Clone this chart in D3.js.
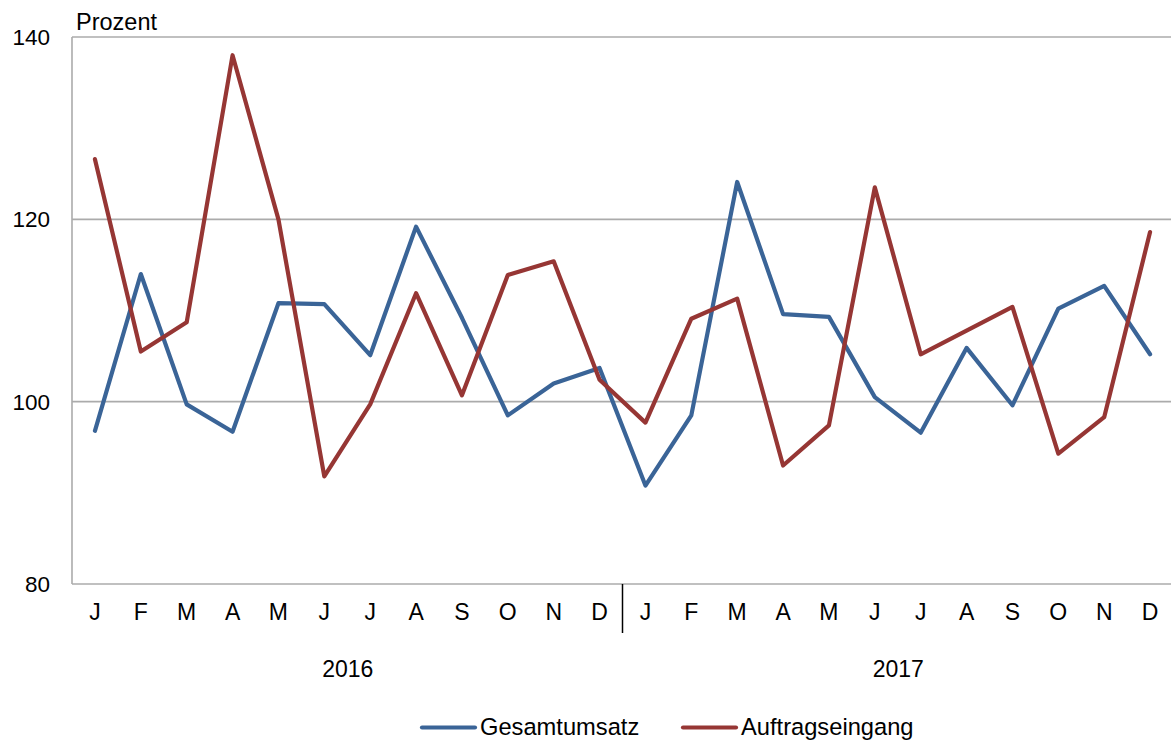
<!DOCTYPE html>
<html>
<head>
<meta charset="utf-8">
<script src="https://cdn.jsdelivr.net/npm/d3@7/dist/d3.min.js"></script>
<style>
html,body{margin:0;padding:0;background:#fff;}
text{font-family:"Liberation Sans", Arial, sans-serif;fill:#000;}
</style>
</head>
<body>
<svg id="chart" width="1171" height="743"></svg>
<script>
const months = ["J","F","M","A","M","J","J","A","S","O","N","D","J","F","M","A","M","J","J","A","S","O","N","D"];
const years = ["2016","2017"];
const gesamtumsatz = [96.8,114.0,99.7,96.7,110.8,110.7,105.1,119.2,109.2,98.5,102.0,103.7,
                      90.8,98.5,124.1,109.6,109.3,100.5,96.6,105.9,99.6,110.2,112.7,105.2];
const auftragseingang = [126.6,105.5,108.7,138.0,120.0,91.8,99.7,111.9,100.7,113.9,115.4,102.4,
                         97.7,109.1,111.3,93.0,97.4,123.5,105.2,107.8,110.4,94.3,98.3,118.6];
const yTicks = [80,100,120,140];
const seriesNames = ["Gesamtumsatz","Auftragseingang"];
const seriesColors = ["#3a6497","#963634"];

(function(){
const svg = d3.select("#chart");
const pLeft = 72, pRight = 1173, pTop = 37, pBottom = 584;

const x = d3.scalePoint().domain(d3.range(months.length)).range([pLeft, pRight]).padding(0.5);
const y = d3.scaleLinear().domain([80,140]).range([pBottom, pTop]);

// gridlines
svg.append("g").selectAll("line").data(yTicks.filter(d => d !== 80)).join("line")
  .attr("x1", pLeft).attr("x2", 1171)
  .attr("y1", d => y(d)).attr("y2", d => y(d))
  .attr("stroke", "#ababab").attr("stroke-width", 1.6);

// axes lines
svg.append("line").attr("x1", pLeft).attr("x2", pLeft).attr("y1", y(140)).attr("y2", y(80))
  .attr("stroke", "#ababab").attr("stroke-width", 1.6);
svg.append("line").attr("x1", pLeft).attr("x2", 1171).attr("y1", y(80)).attr("y2", y(80))
  .attr("stroke", "#ababab").attr("stroke-width", 1.6);

// y tick labels
svg.append("g").selectAll("text").data(yTicks).join("text")
  .attr("x", 50).attr("y", d => y(d)).attr("dy", "0.36em")
  .attr("text-anchor", "end").style("font-size", "22.5px")
  .text(d => d);

svg.append("text").attr("x", 76).attr("y", 29.5).style("font-size", "23.5px").text("Prozent");

// month labels
svg.append("g").selectAll("text").data(months).join("text")
  .attr("x", (d,i) => x(i)).attr("y", 620)
  .attr("text-anchor", "middle").style("font-size", "23px")
  .text(d => d);

// year separator
const sepX = (x(11) + x(12)) / 2;
svg.append("line").attr("x1", sepX).attr("x2", sepX).attr("y1", y(80)).attr("y2", 633)
  .attr("stroke", "#000").attr("stroke-width", 1.5);

// year labels
svg.append("g").selectAll("text").data(years).join("text")
  .attr("x", (d,i) => (x(i*12) + x(i*12+11)) / 2 + 0.5)
  .attr("y", 676.5).attr("text-anchor", "middle").style("font-size", "23px")
  .text(d => d);

// lines
const line = d3.line().x((d,i) => x(i)).y(d => y(d));
[gesamtumsatz, auftragseingang].forEach((s, k) => {
  svg.append("path").datum(s).attr("d", line)
    .attr("fill", "none").attr("stroke", seriesColors[k])
    .attr("stroke-width", 4.2).attr("stroke-linejoin", "round").attr("stroke-linecap", "round");
});

// legend
const legX = [422, 683];
seriesNames.forEach((n, k) => {
  svg.append("line").attr("x1", legX[k]).attr("x2", legX[k] + 53).attr("y1", 727.5).attr("y2", 727.5)
    .attr("stroke", seriesColors[k]).attr("stroke-width", 4.2).attr("stroke-linecap", "round");
  svg.append("text").attr("x", legX[k] + 58).attr("y", 735).style("font-size", "23.7px").text(n);
});
})();
</script>
</body>
</html>
